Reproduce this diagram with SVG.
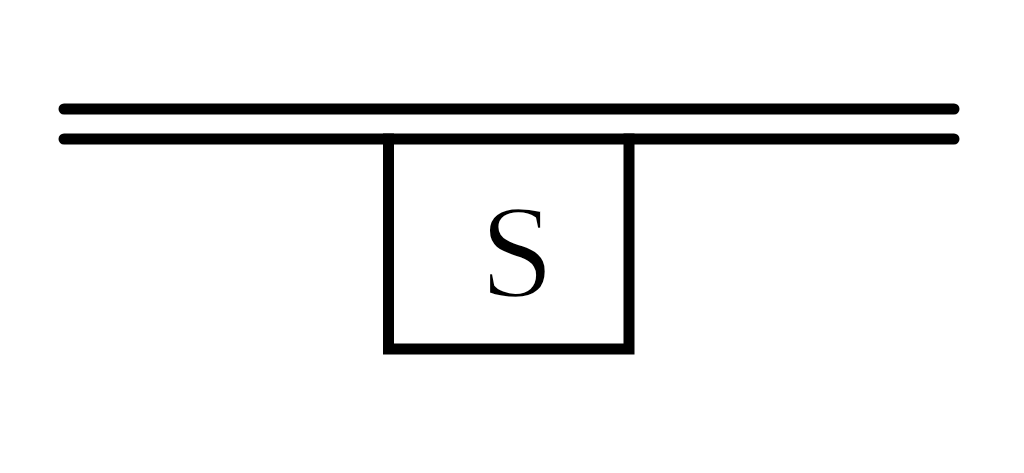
<svg xmlns="http://www.w3.org/2000/svg" width="1024" height="473" viewBox="0 0 1024 473">
<style>
.ln{stroke:#000;stroke-width:11;stroke-linecap:round;fill:none}
.bx{stroke:#000;stroke-width:11;fill:none;stroke-linecap:square}
.lbl{font-family:"Liberation Serif","Times New Roman",serif;font-size:134px;fill:#000;stroke:#fff;stroke-width:2.5}
</style>
<rect width="1024" height="473" fill="#fff"/>
<g id="connectors">
<line class="ln" x1="64" y1="109" x2="954" y2="109"/>
<line class="ln" x1="64" y1="139" x2="954" y2="139"/>
</g>
<g id="node-S">
<polyline class="bx" points="388.5,139 388.5,349 629,349 629,139"/>
<text class="lbl" x="517" y="297" text-anchor="middle">S</text>
</g>
</svg>
